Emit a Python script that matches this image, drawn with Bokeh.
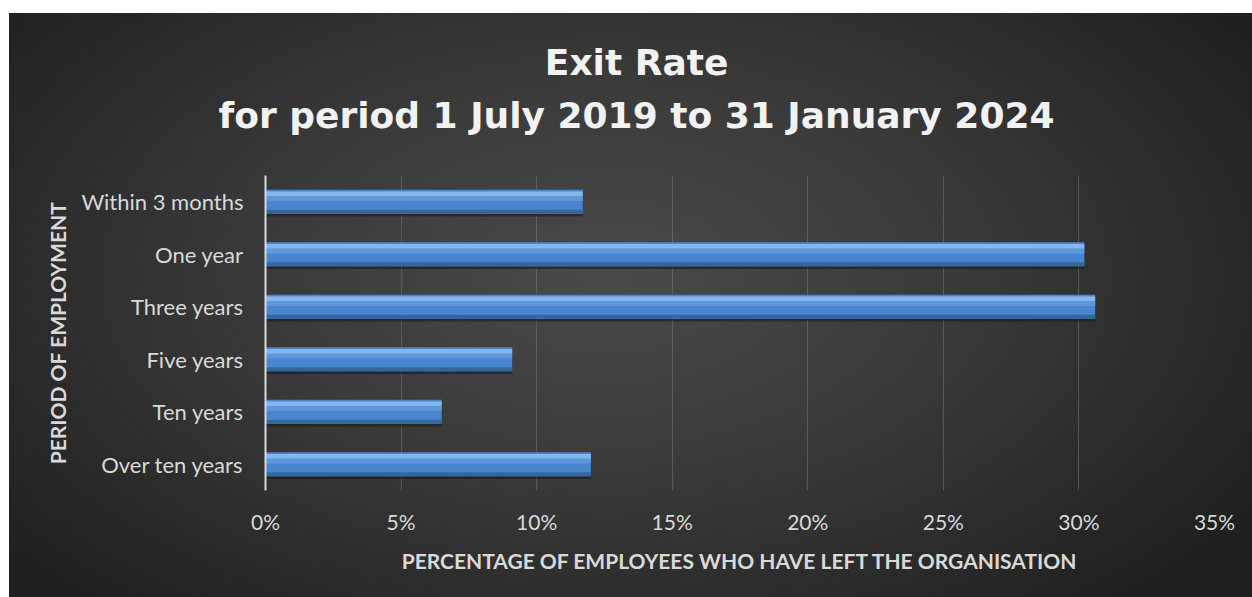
from bokeh.plotting import figure
from bokeh.layouts import column
from bokeh.models import FactorRange, Range1d, FixedTicker, PrintfTickFormatter, ColumnDataSource
from bokeh.core.properties import value
from bokeh.transform import dodge
from bokeh.embed import file_html
from bokeh.resources import INLINE

# ---- data ----
categories = ["Within 3 months", "One year", "Three years", "Five years", "Ten years", "Over ten years"]
exit_pct = [11.7, 30.2, 30.6, 9.1, 6.5, 12.0]
x_ticks = [0, 5, 10, 15, 20, 25, 30, 35]
title_lines = ["Exit Rate", "for period 1 July 2019 to 31 January 2024"]
x_title = "PERCENTAGE OF EMPLOYEES WHO HAVE LEFT THE ORGANISATION"
y_title = "PERIOD OF EMPLOYMENT"

src = ColumnDataSource(dict(cat=categories, val=exit_pct))

W = 1243
TH, PH = 162, 422

# ---- title panel (two centred lines) ----
tf = figure(width=W, height=TH, output_backend="svg", toolbar_location=None,
            x_range=Range1d(0, 1), y_range=Range1d(0, 1),
            min_border=0, x_axis_type=None, y_axis_type=None)
tf.grid.visible = False
tf.outline_line_color = None
tf.border_fill_alpha = 0
tf.background_fill_alpha = 0
tsrc = ColumnDataSource(dict(t=title_lines, x=[0.391, 0.391], y=[0.70, 0.37]))
tf.text(x="x", y="y", text="t", source=tsrc, text_align="center", text_baseline="middle",
        text_font=value("DejaVu Sans"), text_font_style="bold", text_font_size="36px",
        text_color="#f2f2f2", level="overlay")

# ---- main chart ----
p = figure(width=W, height=PH, output_backend="svg", toolbar_location=None,
           y_range=FactorRange(factors=list(reversed(categories))),
           x_range=Range1d(0, 35),
           min_border_left=256, min_border_right=38, min_border_top=0, min_border_bottom=107)
p.border_fill_alpha = 0
p.background_fill_alpha = 0
p.outline_line_color = None

# bars: shadow, body, highlight, lower shade
p.hbar(y=dodge("cat", -0.05, range=p.y_range), right="val", left=0, height=0.46, source=src,
       fill_color="#151515", fill_alpha=0.55, line_color=None)
p.hbar(y="cat", right="val", left=0, height=0.46, source=src,
       fill_color="#4a86d0", line_color=None)
p.hbar(y=dodge("cat", 0.15, range=p.y_range), right="val", left=0, height=0.09, source=src,
       fill_color="#86b6ee", line_color=None)
p.hbar(y=dodge("cat", 0.06, range=p.y_range), right="val", left=0, height=0.09, source=src,
       fill_color="#5f97dc", line_color=None)
p.hbar(y=dodge("cat", -0.19, range=p.y_range), right="val", left=0, height=0.08, source=src,
       fill_color="#35679f", line_color=None)

# axes
p.xaxis.ticker = FixedTicker(ticks=x_ticks)
p.xaxis.formatter = PrintfTickFormatter(format="%d%%")
p.xaxis.axis_line_color = None
p.xaxis.major_tick_line_color = None
p.xaxis.minor_tick_line_color = None
p.xaxis.major_label_standoff = 12
p.xaxis.major_label_text_font = "Lato"
p.xaxis.major_label_text_font_size = "21px"
p.xaxis.major_label_text_color = "#d9d9d9"
p.xaxis.axis_label = x_title
p.xaxis.axis_label_text_font = "Lato"
p.xaxis.axis_label_text_font_style = "bold"
p.xaxis.axis_label_text_font_size = "21px"
p.xaxis.axis_label_text_color = "#d9d9d9"
p.xaxis.axis_label_standoff = 11

p.yaxis.axis_line_color = "#d9d9d9"
p.yaxis.axis_line_width = 2
p.yaxis.major_tick_line_color = None
p.yaxis.minor_tick_line_color = None
p.yaxis.major_label_standoff = 16
p.yaxis.major_label_text_font = "Lato"
p.yaxis.major_label_text_font_size = "22px"
p.yaxis.major_label_text_color = "#d9d9d9"
p.yaxis.axis_label = y_title
p.yaxis.axis_label_text_font = "Lato"
p.yaxis.axis_label_text_font_style = "bold"
p.yaxis.axis_label_text_font_size = "21px"
p.yaxis.axis_label_text_color = "#d9d9d9"
p.yaxis.axis_label_standoff = 8

p.xgrid.grid_line_color = "#707070"
p.xgrid.grid_line_alpha = 0.6
p.ygrid.grid_line_color = None

layout = column(tf, p, spacing=0)
layout.margin = (13, 0, 0, 9)
layout.styles = {"background": "radial-gradient(ellipse 62% 75% at 48% 45%, #4a4a4a 0%, #3a3a3a 45%, #272727 85%, #202020 100%)"}

open("out.html", "w").write(file_html(layout, INLINE))
